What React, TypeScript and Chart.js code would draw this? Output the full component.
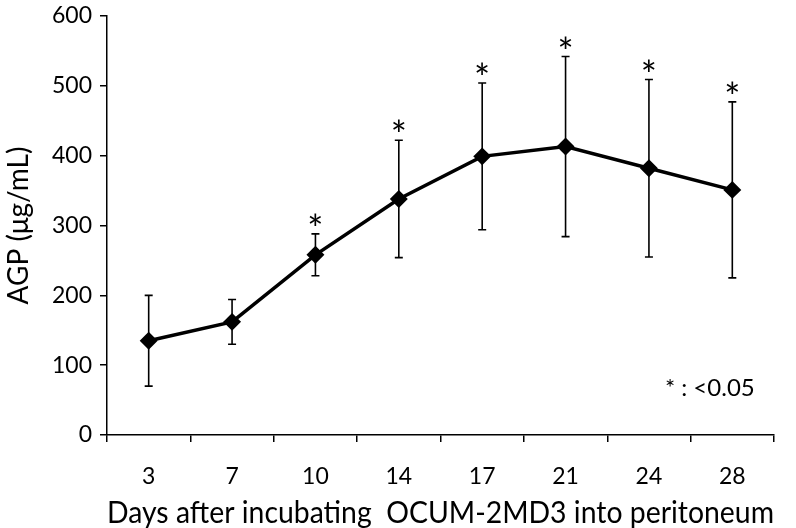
import React, { useEffect, useRef } from "react";
import { Chart, registerables } from "chart.js";

Chart.register(...registerables);

const days = ["3", "7", "10", "14", "17", "21", "24", "28"];
const agpMean = [135, 162, 258, 338, 399, 413, 382, 351];
const agpSD = [65, 32, 30, 84, 105, 129, 127, 126];
const significant = [false, false, true, true, true, true, true, true];
const yTicks = [0, 100, 200, 300, 400, 500, 600];
const noteText = "* : <0.05";

const FONT = "Lato, 'Open Sans', sans-serif";

const errorBarPlugin = {
  id: "errorBars",
  afterDatasetsDraw(chart: any) {
    const ctx = chart.ctx;
    const xs = chart.scales.x;
    const ys = chart.scales.y;
    ctx.save();
    ctx.strokeStyle = "#000";
    ctx.fillStyle = "#000";
    ctx.lineWidth = 1.6;
    agpMean.forEach((m, i) => {
      const x = xs.getPixelForValue(i);
      const yTop = ys.getPixelForValue(m + agpSD[i]);
      const yBot = ys.getPixelForValue(m - agpSD[i]);
      ctx.beginPath();
      ctx.moveTo(x, yTop);
      ctx.lineTo(x, yBot);
      ctx.moveTo(x - 4, yTop);
      ctx.lineTo(x + 4, yTop);
      ctx.moveTo(x - 4, yBot);
      ctx.lineTo(x + 4, yBot);
      ctx.stroke();
      if (significant[i]) {
        ctx.font = `38px ${FONT}`;
        ctx.textAlign = "center";
        ctx.textBaseline = "alphabetic";
        ctx.fillText("*", x, yTop + 9);
      }
    });
    ctx.font = `24px ${FONT}`;
    ctx.textAlign = "center";
    ctx.textBaseline = "middle";
    ctx.fillText(noteText, xs.getPixelForValue(6.73), ys.getPixelForValue(67));
    ctx.restore();
  },
};

export default function App() {
  const ref = useRef<HTMLCanvasElement | null>(null);
  useEffect(() => {
    if (!ref.current) return;
    const chart = new Chart(ref.current, {
      type: "line",
      data: {
        labels: days,
        datasets: [
          {
            data: agpMean,
            borderColor: "#000",
            backgroundColor: "#000",
            borderWidth: 3.5,
            pointStyle: "rectRot",
            pointRadius: 6.5,
            pointBackgroundColor: "#000",
            pointBorderColor: "#000",
            tension: 0,
          },
        ],
      },
      options: {
        responsive: false,
        animation: false,
        layout: { padding: { top: 16, right: 22, left: 0, bottom: 0 } },
        plugins: {
          legend: { display: false },
          tooltip: { enabled: false },
        },
        scales: {
          x: {
            type: "category",
            offset: true,
            grid: {
              offset: true,
              drawOnChartArea: false,
              drawTicks: true,
              tickLength: 7,
              color: "#000",
              lineWidth: 1.5,
            },
            border: { color: "#000", width: 1.5 },
            ticks: {
              color: "#000",
              font: { family: FONT, size: 23 },
              padding: 21,
              maxRotation: 0,
            },
            title: {
              display: true,
              text: "Days after incubating  OCUM-2MD3 into peritoneum",
              color: "#000",
              font: { family: FONT, size: 30.5 },
              padding: { top: 0, bottom: -3 },
            },
            afterFit(scale: any) {
              scale.height = 93;
              scale.paddingLeft = 0;
              scale.paddingRight = 0;
            },
          },
          y: {
            min: 0,
            max: 600,
            afterBuildTicks(scale: any) {
              scale.ticks = yTicks.map((v) => ({ value: v }));
            },
            grid: {
              drawOnChartArea: false,
              drawTicks: true,
              tickLength: 7,
              color: "#000",
              lineWidth: 1.5,
            },
            border: { color: "#000", width: 1.5 },
            ticks: {
              color: "#000",
              font: { family: FONT, size: 23 },
              padding: 8,
            },
            title: {
              display: true,
              text: "AGP (μg/mL)",
              color: "#000",
              font: { family: FONT, size: 28 },
              padding: { top: 2, bottom: 0 },
            },
            afterFit(scale: any) {
              scale.width = 107;
              scale.paddingTop = 0;
              scale.paddingBottom = 0;
            },
          },
        },
      },
      plugins: [errorBarPlugin],
    });
    return () => chart.destroy();
  }, []);
  return (
    <div style={{ position: "absolute", left: 0, top: 0, width: 796, height: 528, background: "#fff" }}>
      <canvas ref={ref} width={796} height={528} />
    </div>
  );
}
